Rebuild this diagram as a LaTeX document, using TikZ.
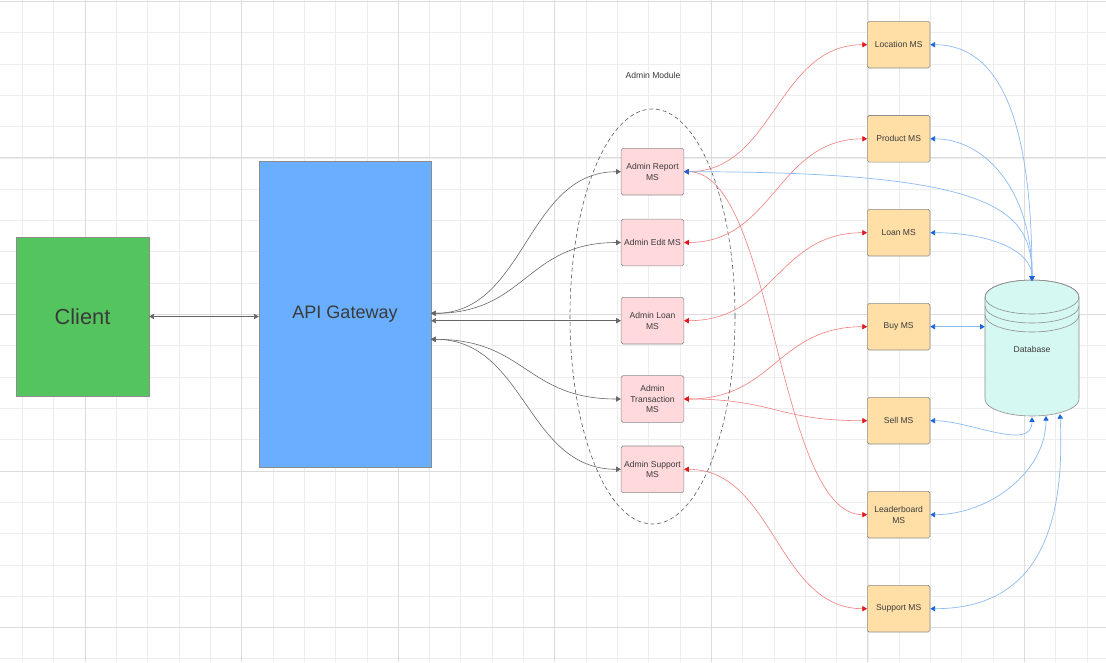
\documentclass[tikz,border=0pt]{standalone}
\usepackage{fontspec}
\setmainfont{Liberation Sans}
\usepackage{xcolor}
\usepackage{tikz}
\usetikzlibrary{arrows.meta}
\definecolor{gridmin}{HTML}{EDEDED}
\definecolor{gridmaj}{HTML}{DCDCDC}
\definecolor{clientgreen}{HTML}{54C45E}
\definecolor{gatewayblue}{HTML}{6AAFFF}
\definecolor{admpink}{HTML}{FFD9DB}
\definecolor{msorange}{HTML}{FFDFA6}
\definecolor{dbcyan}{HTML}{D6F8F2}
\definecolor{boxline}{HTML}{8C8C8C}
\definecolor{txtgray}{HTML}{3A3A3A}
\definecolor{redline}{HTML}{F27C7C}
\definecolor{redtip}{HTML}{E3171B}
\definecolor{blueline}{HTML}{8DBBF2}
\definecolor{bluetip}{HTML}{1A66DD}

\begin{document}
\begin{tikzpicture}[x=0.03cm,y=-0.03cm,
box/.style={draw=boxline,line width=0.5pt,rounded corners=1.5pt,minimum width=1.88cm,minimum height=1.4cm,inner sep=1pt,align=center,text=txtgray,font=\fontsize{7.3}{9.1}\selectfont},
adm/.style={box,fill=admpink},
svc/.style={box,fill=msorange},
big/.style={draw=boxline,line width=0.5pt,text=txtgray,inner sep=0pt},
gw/.style={<->,>={Triangle[length=4pt,width=4.5pt]},draw=black!60,line width=0.5pt},
rd/.style={<->,>={Triangle[length=4pt,width=4.5pt,color=redtip]},draw=redline,line width=0.5pt},
bl/.style={<->,>={Triangle[length=4pt,width=4.5pt,color=bluetip]},draw=blueline,line width=0.6pt}]
\useasboundingbox(0,0)rectangle(1106,662);
\fill[white](0,0)rectangle(1106,662);
\foreach \i in {0,...,34}\draw[gridmin,line width=0.6pt]({22.5+31.31*\i},0)--++(0,662);
\foreach \j in {0,...,21}\draw[gridmin,line width=0.6pt](0,{1.3+31.31*\j})--++(1106,0);
\foreach \i in {2,7,...,32}\draw[gridmaj,line width=0.7pt]({22.5+31.31*\i},0)--++(0,662);
\foreach \j in {0,5,...,20}\draw[gridmaj,line width=0.7pt](0,{1.3+31.31*\j})--++(1106,0);

\draw[black!65,line width=0.5pt,dash pattern=on 3.4pt off 2.4pt](652.5,316.5)ellipse[x radius=2.475cm,y radius=6.225cm];
\node[text=txtgray,font=\fontsize{7.3}{9.1}\selectfont](modlabel)at(653,75){Admin Module};

\node[big,fill=clientgreen,minimum width=3.99cm,minimum height=4.77cm,font=\fontsize{18.6}{22}\selectfont](client)at(82.5,316.5){Client};
\node[big,fill=gatewayblue,minimum width=5.16cm,minimum height=9.18cm,font=\fontsize{15.4}{18}\selectfont](api)at(345,314){API Gateway};

\node[adm](areport)at(652.5,171.7){Admin Report\\MS};
\node[adm](aedit)at(652.5,242.5){Admin Edit MS};
\node[adm](aloan)at(652.5,320.7){Admin Loan\\MS};
\node[adm](atrans)at(652.5,399){Admin\\Transaction\\MS};
\node[adm](asupport)at(652.5,469.3){Admin Support\\MS};

\node[svc](location)at(898.7,44.7){Location MS};
\node[svc](product)at(898.7,138.8){Product MS};
\node[svc](loan)at(898.7,232.7){Loan MS};
\node[svc](buy)at(898.7,326.7){Buy MS};
\node[svc](sell)at(898.7,420.7){Sell MS};
\node[svc](leaderboard)at(898.7,514.7){Leaderboard\\MS};
\node[svc](supportms)at(898.7,608.7){Support MS};

\path[draw=boxline,fill=dbcyan,line width=0.5pt](985,297)--(985,399)arc[start angle=180,end angle=360,x radius=1.41cm,y radius=0.51cm]--(1079,297)arc[start angle=0,end angle=180,x radius=1.41cm,y radius=0.51cm]--cycle;
\draw[boxline,line width=0.5pt](1032,297)ellipse[x radius=1.41cm,y radius=0.51cm]
(985,306)arc[start angle=180,end angle=360,x radius=1.41cm,y radius=0.51cm]
(985,315)arc[start angle=180,end angle=360,x radius=1.41cm,y radius=0.51cm];
\node[text=txtgray,font=\fontsize{7.3}{9.1}\selectfont,minimum width=2.82cm,minimum height=4.08cm,inner sep=0pt](db)at(1032,349){Database};

\coordinate(gwtop)at(431,313.3);
\coordinate(gwlow)at(431,339.3);
\coordinate(dbsouthb)at(1046,416);
\coordinate(dbsouthc)at(1060,414);

\draw[gw](client.east)--(client.east-|api.west);
\draw[gw](gwtop)..controls+(95,0)and+(-95,0)..(areport.west);
\draw[gw](gwtop)..controls+(95,0)and+(-95,0)..(aedit.west);
\draw[gw](aloan.west-|api.east)--(aloan.west);
\draw[gw](gwlow)..controls+(95,0)and+(-95,0)..(atrans.west);
\draw[gw](gwlow)..controls+(95,0)and+(-95,0)..(asupport.west);

\draw[rd](areport.east)..controls+(90,0)and+(-90,0)..(location.west);
\draw[rd](areport.east)..controls+(90,0)and+(-90,0)..(leaderboard.west);
\draw[rd](aedit.east)..controls+(90,0)and+(-90,0)..(product.west);
\draw[rd](aloan.east)..controls+(90,0)and+(-90,0)..(loan.west);
\draw[rd](atrans.east)..controls+(90,0)and+(-90,0)..(buy.west);
\draw[rd](atrans.east)..controls+(90,0)and+(-90,0)..(sell.west);
\draw[rd](asupport.east)..controls+(90,0)and+(-90,0)..(supportms.west);

\draw[bl](location.east)..controls+(70,0)and+(0,-160)..(db.north);
\draw[bl](product.east)..controls+(55,0)and+(0,-90)..(db.north);
\draw[bl](loan.east)..controls+(60,0)and+(0,-30)..(db.north);
\draw[bl](areport.east)..controls+(316,0)and+(0,-70)..(db.north);
\draw[bl](buy.east)--(buy.east-|db.west);
\draw[bl](sell.east)..controls+(40,0)and+(0,35)..(db.south);
\draw[bl](leaderboard.east)..controls+(60,0)and+(0,55)..(dbsouthb);
\draw[bl](supportms.east)..controls+(100,0)and+(6,125)..(dbsouthc);
\end{tikzpicture}
\end{document}
